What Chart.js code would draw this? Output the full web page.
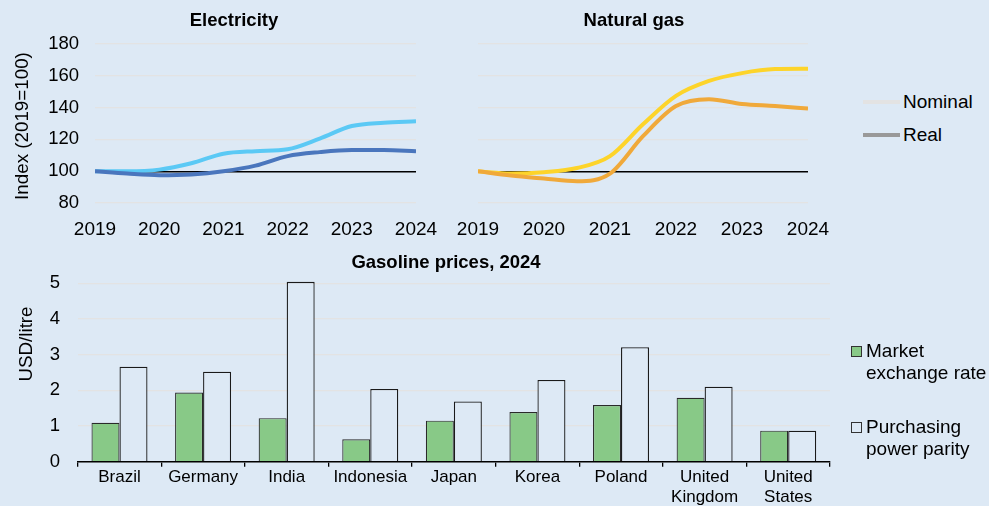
<!DOCTYPE html>
<html>
<head>
<meta charset="utf-8">
<script src="https://cdn.jsdelivr.net/npm/chart.js@4.4.1/dist/chart.umd.min.js"></script>
<style>
html, body { margin: 0; padding: 0; background: #dde9f5; }
body { width: 989px; height: 506px; position: relative; overflow: hidden;
       font-family: "Liberation Sans", Arial, sans-serif; color: #000; }
.box { position: absolute; }
.txt { position: absolute; font-size: 19px; line-height: 22px; white-space: nowrap; }
.title { position: absolute; width: 300px; text-align: center; font-size: 18.5px; font-weight: bold;
         line-height: 22px; white-space: nowrap; }
.ytitle { position: absolute; width: 200px; text-align: center; font-size: 18.8px; line-height: 22px;
          white-space: nowrap; transform: rotate(-90deg); }
.swatch { position: absolute; width: 37px; height: 4px; }
.sq { position: absolute; width: 11px; height: 11px; box-sizing: border-box; border: 1px solid #333; }
</style>
</head>
<body>
<div class="box" style="left:0;top:0;width:468px;height:245px"><canvas id="elecChart"></canvas></div>
<div class="box" style="left:440px;top:0;width:390px;height:245px"><canvas id="gasChart"></canvas></div>
<div class="box" style="left:0;top:245px;width:892px;height:261px"><canvas id="gasolineChart"></canvas></div>

<!-- panel titles -->
<div class="title" style="left:84px;top:9px">Electricity</div>
<div class="title" style="left:484px;top:9px">Natural gas</div>
<div class="title" style="left:296px;top:251px">Gasoline prices, 2024</div>

<!-- axis titles -->
<div class="ytitle" style="left:-78px;top:115px">Index (2019=100)</div>
<div class="ytitle" style="left:-74px;top:333px">USD/litre</div>

<!-- legend, top panels -->
<div class="swatch" style="left:863px;top:100px;background:#e3e3e3"></div>
<div class="txt" style="left:903px;top:91px">Nominal</div>
<div class="swatch" style="left:863px;top:133px;background:#999"></div>
<div class="txt" style="left:903px;top:124px">Real</div>

<!-- legend, gasoline -->
<div class="sq" style="left:851px;top:346px;background:#88c987"></div>
<div class="txt" style="left:866px;top:340px">Market<br>exchange rate</div>
<div class="sq" style="left:851px;top:422px;background:#dde9f5"></div>
<div class="txt" style="left:866px;top:416px">Purchasing<br>power parity</div>

<script>
// half-yearly index values, 2019 = 100
const halfYears = [2019, 2019.5, 2020, 2020.5, 2021, 2021.5, 2022, 2022.5, 2023, 2023.5, 2024];
const elecNominal = [100, 100, 101, 105, 111, 112.6, 113.8, 120.5, 128.4, 130.5, 131.4];
const elecReal = [100, 98.5, 97.5, 98, 100, 103.5, 109.5, 112, 113.3, 113.3, 112.6];
const gasNominal = [100, 98.5, 99.4, 102, 109.5, 129.5, 147.4, 156.8, 161.7, 164.2, 164.4];
const gasReal = [100, 97.3, 95.4, 93.7, 98.5, 122, 141, 145.3, 142.3, 141, 139.4];

// gasoline prices 2024, USD/litre
const countries = ['Brazil', 'Germany', 'India', 'Indonesia', 'Japan', 'Korea', 'Poland', ['United', 'Kingdom'], ['United', 'States']];
const marketRate = [1.09, 1.94, 1.22, 0.63, 1.15, 1.39, 1.59, 1.79, 0.87];
const pppRate = [2.66, 2.52, 5.04, 2.04, 1.69, 2.29, 3.21, 2.10, 0.87];

const bg = '#dde9f5';
const gridGrey = '#e3e3e3';

Chart.defaults.font.family = '"Liberation Sans", Arial, sans-serif';
Chart.defaults.color = '#000';

function toPoints(values) {
    return values.map((v, i) => ({ x: halfYears[i], y: v }));
}

function lineSet(values, colour) {
    return {
        data: toPoints(values),
        borderColor: colour,
        borderWidth: 4,
        pointRadius: 0,
        cubicInterpolationMode: 'monotone',
        fill: false
    };
}

function indexConfig(datasets, showY, yWidth, padR) {
    return {
        type: 'line',
        data: { datasets: datasets },
        options: {
            responsive: true,
            maintainAspectRatio: false,
            animation: false,
            layout: { padding: { left: 0, right: padR, top: 44, bottom: 0 } },
            plugins: {
                legend: { display: false },
                tooltip: { enabled: false }
            },
            scales: {
                x: {
                    type: 'linear',
                    min: 2019,
                    max: 2024,
                    grid: { display: false },
                    border: { display: false },
                    ticks: { stepSize: 1, font: { size: 19 }, padding: 7.6, maxRotation: 0,
                             callback: v => String(v) },
                    afterFit: s => { s.height = 42; s.paddingLeft = 0; s.paddingRight = 0; }
                },
                y: {
                    min: 80,
                    max: 180,
                    grid: {
                        drawTicks: false,
                        color: c => c.tick.value === 100 ? '#000' : gridGrey,
                        lineWidth: c => c.tick.value === 100 ? 1.4 : 1.2
                    },
                    border: { display: false },
                    ticks: { display: showY, stepSize: 20, font: { size: 18.5 }, padding: 16 },
                    afterFit: s => { s.width = yWidth; }
                }
            }
        }
    };
}

new Chart(document.getElementById('elecChart'), indexConfig([
    lineSet(elecReal, '#4a76bd'),
    lineSet(elecNominal, '#5bc9f5')
], true, 95, 52));

new Chart(document.getElementById('gasChart'), indexConfig([
    lineSet(gasReal, '#f0a93a'),
    lineSet(gasNominal, '#fdd42a')
], false, 38, 22));

new Chart(document.getElementById('gasolineChart'), {
    type: 'bar',
    data: {
        labels: countries,
        datasets: [{
            label: 'Market exchange rate',
            data: marketRate,
            backgroundColor: '#88c987',
            borderColor: '#2a2a2a',
            borderWidth: 1.2,
            categoryPercentage: 0.67,
            barPercentage: 1,
            clip: false
        }, {
            label: 'Purchasing power parity',
            data: pppRate,
            backgroundColor: bg,
            borderColor: '#1a1a1a',
            borderWidth: 1.3,
            categoryPercentage: 0.67,
            barPercentage: 1,
            clip: false
        }]
    },
    options: {
        responsive: true,
        maintainAspectRatio: false,
        animation: false,
        layout: { padding: { left: 0, right: 62, top: 38.3, bottom: 0 } },
        plugins: {
            legend: { display: false },
            tooltip: { enabled: false }
        },
        scales: {
            x: {
                grid: { display: true, drawOnChartArea: false, drawTicks: true, tickLength: 5,
                        offset: true, color: '#000', lineWidth: 1.3 },
                border: { display: true, color: '#000', width: 1.5 },
                ticks: { font: { size: 17 }, padding: 0, autoSkip: false, maxRotation: 0 },
                afterFit: s => { s.height = 44.3; s.paddingLeft = 0; s.paddingRight = 0; }
            },
            y: {
                min: 0,
                max: 5,
                grid: { drawTicks: false, color: gridGrey, lineWidth: 1.2 },
                border: { display: false },
                ticks: { stepSize: 1, font: { size: 18.5 }, padding: 17.7 },
                afterFit: s => { s.width = 77.7; }
            }
        }
    }
});
</script>
</body>
</html>
